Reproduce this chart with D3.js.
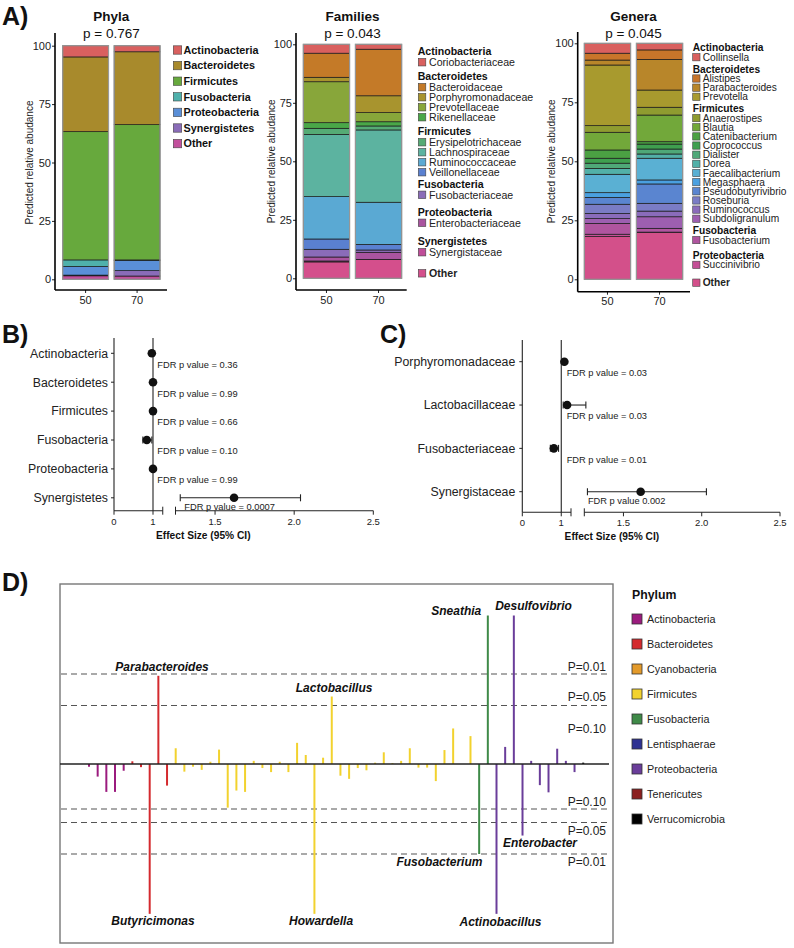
<!DOCTYPE html>
<html><head><meta charset="utf-8">
<script src="https://cdn.jsdelivr.net/npm/d3@7"></script>
<style>
body{margin:0;background:#fff}
svg{display:block}
text{font-family:"Liberation Sans",Arial,Helvetica,sans-serif}
</style>
</head><body>
<svg id="c" width="794" height="948"></svg>
<script>
// ---------------- DATA ----------------
const groups = ["50","70"];

const phylaNames  = ["Actinobacteria","Bacteroidetes","Firmicutes","Fusobacteria","Proteobacteria","Synergistetes","Other"];
const phylaColors = ["#d9605f","#a88a2c","#67a93d","#4fb1ac","#5a8fd8","#8a6cb8","#c24f9c"];
const phyla50 = [4.8,32.0,54.9,2.8,3.7,0.3,1.5];
const phyla70 = [2.6,31.2,57.9,0.2,4.4,2.3,1.4];

const familyNames  = ["Coriobacteriaceae","Bacteroidaceae","Porphyromonadaceae","Prevotellaceae","Rikenellaceae",
  "Erysipelotrichaceae","Lachnospiraceae","Ruminococcaceae","Veillonellaceae","Fusobacteriaceae",
  "Enterobacteriaceae","Synergistaceae","Other"];
const familyGroup  = ["Actinobacteria","Bacteroidetes","Bacteroidetes","Bacteroidetes","Bacteroidetes",
  "Firmicutes","Firmicutes","Firmicutes","Firmicutes","Fusobacteria","Proteobacteria","Synergistetes",null];
const familyColors = ["#d9605f","#c47a28","#a8942e","#88a63a","#4aa748","#55ab75","#5cb3a0","#5aa9d3",
  "#5a80d0","#8a6cb8","#a9549f","#c04d99","#d44f8c"];
const family50 = [3.8,10.3,1.9,17.5,2.4,2.6,26.6,18.1,4.4,3.3,1.7,0.4,7.0];
const family70 = [2.1,19.9,7.2,3.9,1.8,1.7,30.9,18.0,2.4,1.0,3.0,0.1,8.0];

const genusNames = ["Collinsella","Alistipes","Parabacteroides","Prevotella","Anaerostipes","Blautia",
  "Catenibacterium","Coprococcus","Dialister","Dorea","Faecalibacterium","Megasphaera","Pseudobutyrivibrio",
  "Roseburia","Ruminococcus","Subdoligranulum","Fusobacterium","Succinivibrio","Other"];
const genusGroup = ["Actinobacteria","Bacteroidetes","Bacteroidetes","Bacteroidetes",
  "Firmicutes","Firmicutes","Firmicutes","Firmicutes","Firmicutes","Firmicutes","Firmicutes","Firmicutes",
  "Firmicutes","Firmicutes","Firmicutes","Firmicutes","Fusobacteria","Proteobacteria",null];
const genusColors = ["#d9605f","#c8752a","#b8862a","#a89a2e","#8f9c30","#72a83a","#4ba043","#3f9f4f",
  "#4fa878","#52b0a8","#5ab0d3","#4aa0e0","#5a85d0","#7a7cc5","#8a6cbb","#9d5fb0","#b0559f","#c44f96","#d3508a"];
const genus50 = [4.2,2.9,2.1,25.7,2.8,7.5,3.5,2.1,2.2,2.5,7.8,2.0,2.9,3.9,2.2,2.0,4.6,1.0,18.1];
const genus70 = [2.8,4.0,13.0,7.3,3.3,11.3,1.0,2.1,2.1,1.8,9.2,1.7,8.2,3.3,2.4,4.9,1.6,0.2,19.8];

const stackTicks = [0,25,50,75,100];

// Panel B
const phylumCats   = ["Actinobacteria","Bacteroidetes","Firmicutes","Fusobacteria","Proteobacteria","Synergistetes"];
const phylumEffect = [0.97,1.00,1.00,0.84,1.00,1.62];
const phylumLow    = [0.95,0.98,0.98,0.74,0.98,1.28];
const phylumHigh   = [0.99,1.02,1.02,0.97,1.02,2.04];
const phylumFDR    = ["FDR p value = 0.36","FDR p value = 0.99","FDR p value = 0.66","FDR p value = 0.10","FDR p value = 0.99","FDR p value = 0.0007"];

// Panel C
const familyCats   = ["Porphyromonadaceae","Lactobacillaceae","Fusobacteriaceae","Synergistaceae"];
const familyEffect = [1.08,1.15,0.81,1.61];
const familyLow    = [1.06,1.05,0.72,1.27];
const familyHigh   = [1.10,1.26,0.93,2.03];
const familyFDR    = ["FDR p value = 0.03","FDR p value = 0.03","FDR p value = 0.01","FDR p value 0.002"];

const effectTicks      = [0,1,1.5,2.0,2.5];
const effectTickLabels = ["0","1","1.5","2.0","2.5"];

// Panel D  (signed -log10 p)
const dPhylaLegend = ["Actinobacteria","Bacteroidetes","Cyanobacteria","Firmicutes","Fusobacteria",
  "Lentisphaerae","Proteobacteria","Tenericutes","Verrucomicrobia"];
const dPhylaColors = ["#9b1b7e","#d42a2e","#e39a2a","#f2d22e","#3f8a48","#2e3192","#6a3d9a","#8b1f1f","#000000"];
const dBarPhylum = ["Actinobacteria","Actinobacteria","Actinobacteria","Actinobacteria","Actinobacteria",
  "Bacteroidetes","Bacteroidetes","Bacteroidetes","Bacteroidetes","Bacteroidetes",
  "Firmicutes","Firmicutes","Firmicutes","Firmicutes","Firmicutes","Firmicutes","Firmicutes","Firmicutes","Firmicutes","Firmicutes",
  "Firmicutes","Firmicutes","Firmicutes","Firmicutes","Firmicutes","Firmicutes","Firmicutes","Firmicutes","Firmicutes","Firmicutes",
  "Firmicutes","Firmicutes","Firmicutes","Firmicutes","Firmicutes","Firmicutes","Firmicutes","Firmicutes","Firmicutes","Firmicutes",
  "Firmicutes","Firmicutes","Firmicutes","Firmicutes","Firmicutes",
  "Fusobacteria","Fusobacteria",
  "Proteobacteria","Proteobacteria","Proteobacteria","Proteobacteria","Proteobacteria",
  "Proteobacteria","Proteobacteria","Proteobacteria","Proteobacteria","Proteobacteria",
  "Verrucomicrobia"];
const dBarScore = [-0.06,-0.28,-0.62,-0.62,-0.15,
  0.06,-0.07,-3.33,1.96,-0.48,
  0.35,-0.17,-0.06,-0.13,0.05,0.32,-0.97,-0.59,-0.62,0.07,
  -0.09,-0.18,0.05,-0.18,0.47,0.20,-3.33,0.14,1.50,-0.26,
  -0.33,-0.09,-0.14,0.03,0.26,0.02,0.07,0.35,-0.08,-0.08,
  -0.38,0.31,0.79,0.00,0.62,
  -2.00,3.30,
  -3.33,0.38,3.30,-1.59,0.07,-0.47,-0.63,0.34,0.07,-0.18,
  0.03];
const dLabelIdx   = [8,28,46,49,7,26,45,50,47];
const dLabelNames = ["Parabacteroides","Lactobacillus","Sneathia","Desulfovibrio","Butyricimonas","Howardella","Fusobacterium","Enterobacter","Actinobacillus"];
const dThresholds = [0.01,0.05,0.10];

// ---------------- DRAW ----------------
const svg = d3.select("#c");
svg.append("rect").attr("width",794).attr("height",948).attr("fill","#fff");

function txt(g,x,y,s,o){
  o=o||{};
  const t=g.append("text").attr("x",x).attr("y",y).text(s)
    .attr("font-size",o.size||11).style("fill",o.fill||"#1a1a1a")
    .attr("text-anchor",o.anchor||"start");
  if(o.bold) t.attr("font-weight","bold");
  if(o.italic) t.attr("font-style","italic");
  if(o.dy) t.attr("dy",o.dy);
  if(o.rotate) t.attr("transform",`rotate(${o.rotate},${x},${y})`);
  return t;
}

// Panel letters
txt(svg,2,25,"A)",{size:25,bold:true,fill:"#111"});
txt(svg,2,343,"B)",{size:25,bold:true,fill:"#111"});
txt(svg,380,343,"C)",{size:25,bold:true,fill:"#111"});
txt(svg,2,591,"D)",{size:25,bold:true,fill:"#111"});

function drawStack(cfg){
  const g = svg.append("g");
  const y = d3.scaleLinear().domain([0,100]).range([cfg.y0,cfg.y100]);
  const x = d3.scaleBand().domain(groups).range(cfg.band).paddingInner(0.11);
  const rows = groups.map((gn,gi)=>{const o={group:gn}; cfg.names.forEach((n,k)=>o[n]=(gi===0?cfg.v50:cfg.v70)[k]); return o;});
  const layers = d3.stack().keys(cfg.names.slice().reverse())(rows);
  layers.forEach(layer=>{
    const col = cfg.colors[cfg.names.indexOf(layer.key)];
    g.selectAll(null).data(layer).enter().append("rect")
      .attr("x",d=>x(d.data.group)).attr("y",d=>y(d[1]))
      .attr("width",x.bandwidth()).attr("height",d=>Math.max(0,y(d[0])-y(d[1])))
      .attr("fill",col).attr("stroke","#1a1a1a").attr("stroke-width",0.7);
  });
  g.selectAll(null).data(groups).enter().append("rect")
    .attr("x",d=>x(d)).attr("y",y(100)).attr("width",x.bandwidth()).attr("height",y(0)-y(100))
    .attr("fill","none").attr("stroke","#999").attr("stroke-width",1.2);
  // y axis
  const ya = g.append("g").attr("transform",`translate(${cfg.axisX},0)`)
    .call(d3.axisLeft(y).tickValues(stackTicks).tickSize(3).tickPadding(1));
  ya.select(".domain").remove();
  ya.selectAll("text").attr("font-size",11).attr("fill","#222").style("fill","#222").attr("font-family",null);
  ya.selectAll("line").attr("stroke","#222");
  g.append("line").attr("x1",cfg.axisX).attr("x2",cfg.axisX).attr("y1",cfg.axTop).attr("y2",cfg.axBottom)
    .attr("stroke","#000").attr("stroke-width",1.6);
  // x axis
  const xa = g.append("g").attr("transform",`translate(0,${cfg.axBottom})`)
    .call(d3.axisBottom(x).tickSize(3).tickPadding(3));
  xa.select(".domain").remove();
  xa.selectAll("text").attr("font-size",11).attr("fill","#222").style("fill","#222").attr("font-family",null);
  xa.selectAll("line").attr("stroke","#222");
  g.append("line").attr("x1",cfg.axisX).attr("x2",cfg.axRight).attr("y1",cfg.axBottom).attr("y2",cfg.axBottom)
    .attr("stroke","#000").attr("stroke-width",1.6);
  // titles
  const cx = (cfg.band[0]+cfg.band[1])/2;
  txt(g,cx,20.5,cfg.title,{size:13.5,bold:true,anchor:"middle",fill:"#111"});
  txt(g,cx,38,cfg.p,{size:13.5,anchor:"middle",fill:"#111"});
  txt(g,cfg.ylabX,(cfg.y0+cfg.y100)/2,"Predicted relative abudance",{size:10,anchor:"middle",rotate:-90,dy:"0.35em",fill:"#222"});
  return g;
}

const gPh = drawStack({names:phylaNames,colors:phylaColors,v50:phyla50,v70:phyla70,
  y0:279.3,y100:45.7,band:[62.7,160],axisX:55,axTop:33,axBottom:290,axRight:167,
  title:"Phyla",p:"p = 0.767",ylabX:29});
phylaNames.forEach((n,i)=>{
  const yy = 50 + i*15.6;
  gPh.append("rect").attr("x",173.3).attr("y",yy-4.2).attr("width",8.4).attr("height",8.4)
    .attr("fill",phylaColors[i]).attr("stroke","#444").attr("stroke-width",0.6);
  txt(gPh,183.5,yy,n,{size:10.8,bold:true,dy:"0.35em",fill:"#111"});
});

function legendGrouped(g,names,grp,colors,L){
  let y=null;
  names.forEach((n,i)=>{
    const gr=grp[i], isOther = gr===null;
    if(i===0 || gr!==grp[i-1]){
      y = (y===null)? L.y0 : y + L.ihStep + (L.extra[isOther?"Other":gr]||0);
      if(!isOther){ txt(g,L.hx,y,gr,{size:L.fs,bold:true,dy:"0.35em",fill:"#111"}); y += L.hStep; }
    } else y += L.iStep;
    g.append("rect").attr("x",L.sx).attr("y",y-L.sq/2).attr("width",L.sq).attr("height",L.sq)
      .attr("fill",colors[i]).attr("stroke","#444").attr("stroke-width",0.6);
    txt(g,L.tx,y,n,{size:L.fs,bold:isOther,dy:"0.35em",fill:"#222"});
  });
}

const gFa = drawStack({names:familyNames,colors:familyColors,v50:family50,v70:family70,
  y0:278.3,y100:44.3,band:[303.3,401.7],axisX:296,axTop:33,axBottom:290,axRight:406.7,
  title:"Families",p:"p = 0.043",ylabX:271.7});
legendGrouped(gFa,familyNames,familyGroup,familyColors,
  {y0:51.7,hStep:10.5,iStep:10,ihStep:14.5,extra:{Fusobacteria:-2.4,Proteobacteria:3,Synergistetes:4.4,Other:6.6},
   hx:417.7,sx:418.3,tx:429,sq:7.5,fs:10.6});

const gGe = drawStack({names:genusNames,colors:genusColors,v50:genus50,v70:genus70,
  y0:279.3,y100:43.3,band:[584.3,682.7],axisX:577.7,axTop:32,axBottom:291.7,axRight:690,
  title:"Genera",p:"p = 0.045",ylabX:551.7});
legendGrouped(gGe,genusNames,genusGroup,genusColors,
  {y0:47.7,hStep:9.5,iStep:9.15,ihStep:11.8,extra:{Proteobacteria:3.5,Other:6},
   hx:692.7,sx:692.7,tx:702.7,sq:7.3,fs:10.2});

// ---------- Forest plots ----------
function drawForest(cfg){
  const g = svg.append("g");
  const x = d3.scaleLinear().domain([0,1.25,1.2500001,2.5]).range(cfg.xr);
  const y = d3.scalePoint().domain(cfg.cats).range(cfg.yr);
  const stroke="#222";
  g.append("line").attr("x1",cfg.xr[0]).attr("x2",cfg.xr[0]).attr("y1",cfg.top).attr("y2",cfg.axY).attr("stroke",stroke).attr("stroke-width",1.1);
  g.append("line").attr("x1",x(1)).attr("x2",x(1)).attr("y1",cfg.top).attr("y2",cfg.axY).attr("stroke",stroke).attr("stroke-width",1.1);
  cfg.cats.forEach((c,i)=>{
    g.append("line").attr("x1",cfg.xr[0]-3).attr("x2",cfg.xr[0]).attr("y1",y(c)).attr("y2",y(c)).attr("stroke",stroke);
    txt(g,cfg.xr[0]-cfg.labGap,y(c),c,{size:12.3,anchor:"end",dy:"0.35em",fill:"#222"});
  });
  [[0,1.25],[1.2500001,2.5]].forEach(s=>{
    g.append("line").attr("x1",x(s[0])).attr("x2",x(s[1])).attr("y1",cfg.axY).attr("y2",cfg.axY).attr("stroke",stroke).attr("stroke-width",1.1);
  });
  [1.25,1.2500001].forEach(v=>{
    g.append("line").attr("x1",x(v)).attr("x2",x(v)).attr("y1",cfg.axY-4).attr("y2",cfg.axY+4).attr("stroke",stroke);
  });
  effectTicks.forEach((v,i)=>{
    g.append("line").attr("x1",x(v)).attr("x2",x(v)).attr("y1",cfg.axY).attr("y2",cfg.axY+4).attr("stroke",stroke);
    txt(g,x(v),cfg.axY+14,effectTickLabels[i],{size:9.5,anchor:"middle",fill:"#222"});
  });
  txt(g,(x(1.5)+x(1.2500001))/2+8,cfg.axY+28,"Effect Size (95% CI)",{size:10.2,bold:true,anchor:"middle",fill:"#111"});
  cfg.cats.forEach((c,i)=>{
    const yy=y(c), lo=x(cfg.lo[i]), hi=x(cfg.hi[i]);
    g.append("line").attr("x1",lo).attr("x2",hi).attr("y1",yy).attr("y2",yy).attr("stroke",stroke).attr("stroke-width",1.1);
    [lo,hi].forEach(xx=>g.append("line").attr("x1",xx).attr("x2",xx).attr("y1",yy-3.5).attr("y2",yy+3.5).attr("stroke",stroke).attr("stroke-width",1.1));
    g.append("circle").attr("cx",x(cfg.eff[i])).attr("cy",yy).attr("r",4.3).attr("fill","#111");
    const big = cfg.eff[i]>1.25;
    const tx = big ? lo + cfg.bigDx : x(1)+cfg.smallDx;
    txt(g,tx,yy+(big?11.8:14.3),cfg.fdr[i],{size:9.3,fill:"#222"});
  });
}
drawForest({cats:phylumCats,eff:phylumEffect,lo:phylumLow,hi:phylumHigh,fdr:phylumFDR,
  xr:[114,162.75,175.5,373.3],yr:[353.3,497.8],top:338,axY:510.7,labGap:6,bigDx:4,smallDx:4.3});
drawForest({cats:familyCats,eff:familyEffect,lo:familyLow,hi:familyHigh,fdr:familyFDR,
  xr:[522.3,571,584.3,780],yr:[361.7,491.7],top:340,axY:512.3,labGap:7,bigDx:0.5,smallDx:5.4});

// ---------- Panel D ----------
(function(){
  const g = svg.append("g");
  const box = {x:60,y:584,w:553,h:359};
  const y = d3.scaleLinear().domain([0,1]).range([764,719]);
  const x = d3.scalePoint().domain(d3.range(dBarScore.length)).range([89,583.2]);
  const col = d3.scaleOrdinal().domain(dPhylaLegend).range(dPhylaColors);
  g.append("rect").attr("x",box.x).attr("y",box.y).attr("width",box.w).attr("height",box.h)
    .attr("fill","none").attr("stroke","#777").attr("stroke-width",1.4);
  const lines = [];
  dThresholds.forEach(p=>{
    const s = -Math.log10(p);
    if(p<0.1) lines.push(s);
    lines.push(-s);
  });
  lines.forEach(s=>{
    g.append("line").attr("x1",box.x+1).attr("x2",607).attr("y1",y(s)).attr("y2",y(s))
      .attr("stroke","#555").attr("stroke-width",1.1).attr("stroke-dasharray","6,4");
  });
  const labUp = {0.01:-3,0.05:-4.5,0.10:14};
  const labDn = {0.01:12,0.05:12,0.10:-3};
  dThresholds.forEach(p=>{
    const s=-Math.log10(p), lab="P="+p.toFixed(2);
    txt(g,606,y(s)+labUp[p],lab,{size:12,anchor:"end",fill:"#222"});
    txt(g,606,y(-s)+labDn[p],lab,{size:12,anchor:"end",fill:"#222"});
  });
  g.selectAll(null).data(dBarScore).enter().append("line")
    .attr("x1",(d,i)=>x(i)).attr("x2",(d,i)=>x(i))
    .attr("y1",y(0)).attr("y2",d=>y(d))
    .attr("stroke",(d,i)=>col(dBarPhylum[i])).attr("stroke-width",2);
  g.append("line").attr("x1",box.x).attr("x2",609).attr("y1",y(0)).attr("y2",y(0)).attr("stroke","#222").attr("stroke-width",1.5);
  const off = {Parabacteroides:[3.7,-4.7],Lactobacillus:[2.3,-4.7],Sneathia:[-31.6,-0.7],Desulfovibrio:[19.7,-5.4],
    Butyricimonas:[3.3,11.3],Howardella:[6.7,11.3],Fusobacterium:[-39.7,12.3],Enterobacter:[17.5,11.6],Actinobacillus:[4,12]};
  dLabelIdx.forEach((bi,k)=>{
    const n=dLabelNames[k], o=off[n];
    txt(g,x(bi)+o[0],y(dBarScore[bi])+o[1],n,{size:12,bold:true,italic:true,anchor:"middle",fill:"#111"});
  });
  txt(g,632,599,"Phylum",{size:12.3,bold:true,fill:"#111"});
  dPhylaLegend.forEach((n,i)=>{
    const yy=619+i*25;
    g.append("rect").attr("x",632).attr("y",yy-5).attr("width",10).attr("height",10)
      .attr("fill",dPhylaColors[i]).attr("stroke","#333").attr("stroke-width",0.8);
    txt(g,647,yy,n,{size:10.8,dy:"0.35em",fill:"#222"});
  });
})();
</script>
</body></html>
